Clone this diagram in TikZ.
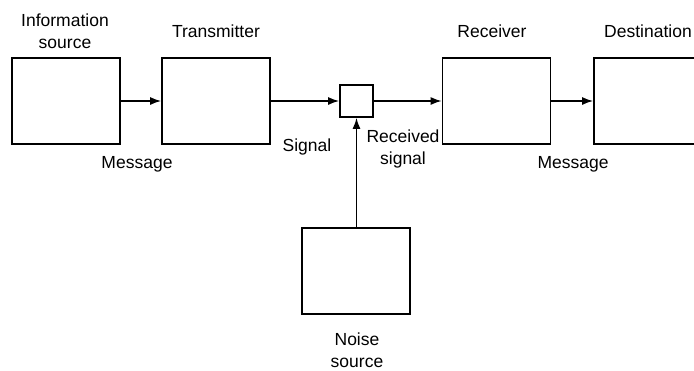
\documentclass[tikz,border=0pt]{standalone}
\usepackage{fontspec}
\setmainfont{Liberation Sans}
\usetikzlibrary{arrows.meta}
\begin{document}
\begin{tikzpicture}[x=1pt,y=-1pt,
  blk/.style={draw,line width=1.6pt,minimum width=108pt,minimum height=86pt,inner sep=0pt},
  junc/.style={draw,line width=1.6pt,minimum width=33pt,minimum height=32pt,inner sep=0pt},
  lbl/.style={font=\fontsize{17.5}{22.5}\selectfont,align=center,inner sep=0pt},
  con/.style={line width=1.6pt,-{Latex[length=11pt,width=8pt]}}]
\useasboundingbox (0,0) rectangle (694,370);
\node[blk] (src) at (66,101) {};
\node[blk] (tx) at (216,101) {};
\node[junc] (sum) at (356.5,101) {};
\node[blk] (rx) at (496.5,101) {};
\node[blk] (dst) at (648,101) {};
\node[blk] (noise) at (356,271) {};
\node[lbl] (lsrc) at (65,31) {Information\\source};
\node[lbl] (ltx) at (216,31) {Transmitter};
\node[lbl] (lrx) at (492,31) {Receiver};
\node[lbl] (ldst) at (648,31) {Destination};
\node[lbl] (lmsg1) at (137,164) {Message};
\node[lbl] (lsig) at (307,147) {Signal};
\node[lbl] (lrec) at (403,149) {Received\\signal};
\node[lbl] (lmsg2) at (573,164) {Message};
\node[lbl] (lnoise) at (357,350) {Noise\\source};
\draw[con] (src.east) -- (tx.west);
\draw[con] (tx.east) -- (sum.west);
\draw[con] (sum.east) -- (rx.west);
\draw[con] (rx.east) -- (dst.west);
\draw[con] (noise.north -| sum.south) -- (sum.south);
\end{tikzpicture}
\end{document}
